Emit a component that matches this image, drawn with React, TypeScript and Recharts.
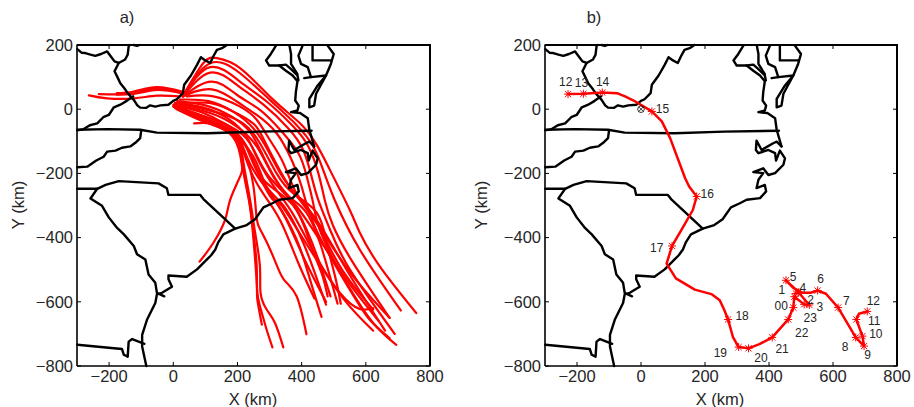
import React from "react";
import { ComposedChart, Line, ReferenceLine, XAxis, YAxis } from "recharts";

const xTicks = [-200, 0, 200, 400, 600, 800];
const yTicks = [-800, -600, -400, -200, 0, 200];
const xDomain = [-300, 800];
const yDomain = [-800, 200];
const frame = [[-300,200],[800,200],[800,-800]];

// ---- map borders (km) ----
const borderWest = [[-299,187],[-286,176],[-274,175],[-258,170],[-243,166],[-225,172],[-206,180],[-195,165],[-183,149],[-170,144],[-183,118],[-174,100],[-165,81],[-150,62],[-142,50],[-123,29],[-112,12],[-103,5],[-85,4],[-72,12],[-56,8],[-40,12],[-15,14],[0,26],[11,31],[30,50],[34,76],[55,105],[74,138],[86,162],[100,152],[115,144],[125,165],[136,185],[152,190],[167,200]];
const borderUp = [[-170,144],[-150,155],[-142,170],[-139,196],[-136,200]];
const borderTopNub = [[-123,200],[-113,197],[-105,200]];
const borderKyTn = [[-125,40],[-145,26],[-165,14],[-185,6],[-201,-18],[-218,-25],[-237,-44],[-260,-50],[-279,-62],[-299,-66]];
const borderNcNorth = [[-299,-64],[-206,-62],[-103,-64],[-51,-73],[105,-75],[260,-70],[431,-67]];
const borderVaCoast = [[320,198],[304,172],[289,152],[299,136],[330,136],[351,120],[372,105],[387,87],[382,53],[380,27],[391,11],[387,-4],[367,-9],[395,-12],[419,-28],[424,-64],[439,-116]];
const borderPotomac = [[330,136],[351,139],[367,125],[387,105],[390,90]];
const borderMd = [[362,198],[367,172],[367,141],[387,109]];
const borderBay = [[403,198],[390,167],[398,141],[419,131],[429,100],[408,97]];
const borderDelaware = [[434,198],[434,152],[491,152]];
const borderDelmarva = [[481,198],[500,172],[491,141],[476,105],[450,74],[424,32],[424,6],[439,11],[445,48],[476,105]];
const borderBayMouth = [[429,100],[476,105]];
const borderCoast = [[439,-116],[424,-101],[413,-106],[377,-127],[361,-98],[359,-127],[367,-137],[398,-127],[419,-137],[422,-160],[434,-129],[450,-153],[445,-173],[419,-199],[398,-205],[382,-184],[351,-196],[382,-199],[367,-220],[361,-246],[387,-236],[391,-256],[372,-277],[330,-282],[309,-293],[281,-306],[255,-343],[229,-361],[193,-372],[156,-390],[140,-415],[131,-437],[118,-455],[105,-468],[74,-499],[42,-522],[-15,-518],[-15,-530],[-4,-553],[-35,-572],[-51,-577],[-56,-604],[-82,-656],[-97,-703],[-97,-739],[-84,-800]];
const borderNcSc = [[-299,-248],[-237,-248],[-211,-236],[-170,-224],[-46,-231],[-20,-246],[-15,-267],[84,-267],[94,-280],[193,-372]];
const borderScWest = [[-237,-248],[-258,-278],[-222,-301],[-201,-337],[-175,-370],[-154,-390],[-123,-426],[-113,-452],[-87,-468],[-77,-515],[-56,-541],[-51,-572],[-28,-583]];
const borderNcTn = [[-299,-181],[-268,-179],[-240,-160],[-217,-148],[-206,-132],[-180,-129],[-160,-120],[-134,-116],[-115,-102],[-103,-90],[-100,-67]];
const borderGaFl = [[-299,-734],[-160,-747],[-154,-765],[-142,-771],[-139,-724],[-128,-716],[-90,-731]];
const borders = [borderWest,borderUp,borderTopNub,borderKyTn,borderNcNorth,borderVaCoast,borderPotomac,borderMd,borderBay,borderDelaware,borderDelmarva,borderBayMouth,borderCoast,borderNcSc,borderScWest,borderNcTn,borderGaFl];

// ---- panel a: ensemble trajectories (km) ----
const t1 = [[32,45],[94,144],[136,159],[208,128],[312,29],[395,-44],[447,-111],[488,-189],[550,-314],[581,-384],[643,-489],[757,-635]];
const t2 = [[30,40],[115,143],[208,112],[301,29],[384,-49],[436,-116],[467,-189],[503,-283],[581,-437],[709,-627]];
const t3 = [[30,40],[115,131],[208,86],[291,24],[374,-54],[421,-116],[452,-199],[472,-283],[498,-363],[560,-478],[674,-650]];
const t4 = [[30,40],[115,114],[198,76],[281,14],[358,-59],[405,-127],[431,-210],[452,-283],[488,-374],[550,-499],[690,-700]];
const t5 = [[30,40],[120,86],[198,45],[270,-2],[333,-64],[390,-137],[416,-210],[436,-293],[462,-390],[540,-541],[623,-666],[695,-734]];
const t6 = [[30,40],[120,62],[198,24],[260,-18],[322,-75],[369,-158],[400,-241],[447,-379],[550,-562],[612,-656],[674,-713]];
const t7 = [[42,40],[125,40],[208,8],[260,-33],[301,-96],[343,-168],[384,-262],[436,-332],[519,-489],[623,-624]];
const t8 = [[6,19],[105,-2],[208,-38],[270,-106],[322,-200],[374,-262],[447,-322],[478,-416],[504,-520],[522,-606]];
const t9 = [[6,14],[115,-12],[198,-54],[260,-116],[312,-210],[364,-275],[415,-322],[457,-416],[488,-520],[512,-606]];
const t10 = [[1,8],[84,-18],[177,-54],[239,-106],[291,-200],[364,-283],[415,-374],[452,-468],[490,-583]];
const t11 = [[6,3],[84,-31],[167,-64],[234,-127],[281,-220],[374,-300],[426,-416],[462,-510],[481,-583]];
const t12 = [[11,0],[94,-38],[177,-73],[250,-148],[291,-241],[343,-300],[405,-416],[452,-541],[476,-609]];
const t13 = [[1,14],[105,-25],[188,-64],[229,-148],[270,-220],[322,-290],[384,-405],[426,-530],[462,-647]];
const t14 = [[1,14],[84,-23],[177,-70],[224,-137],[250,-241],[260,-342],[276,-384],[313,-463],[344,-530],[384,-582],[415,-701]];
const t15 = [[1,10],[100,-30],[190,-75],[219,-168],[239,-280],[255,-384],[270,-489],[272,-572],[291,-624],[317,-666],[343,-742]];
const t16 = [[1,10],[100,-34],[190,-78],[216,-168],[236,-280],[250,-384],[260,-489],[262,-572],[276,-635],[291,-687],[309,-742]];
const t17 = [[1,8],[100,-36],[190,-80],[214,-168],[235,-280],[248,-384],[260,-541],[262,-593],[276,-671]];
const t18 = [[1,8],[100,-40],[185,-85],[213,-168],[208,-210],[177,-283],[162,-343],[125,-416],[82,-475]];
const t19 = [[65,-44],[115,-44],[177,-64],[229,-116],[270,-210],[312,-283],[353,-322],[519,-572],[623,-620]];
const t20 = [[20,30],[110,25],[190,-10],[250,-60],[296,-130],[340,-210],[400,-290],[470,-390],[560,-520],[674,-650]];
const t21 = [[12,25],[100,12],[180,-22],[240,-72],[282,-150],[330,-235],[390,-310],[465,-420],[550,-545],[640,-660]];
const t22 = [[5,20],[95,5],[172,-30],[228,-85],[268,-165],[320,-250],[375,-330],[440,-450],[530,-590],[623,-690]];
const t23 = [[8,12],[90,-10],[160,-45],[215,-95],[252,-175],[300,-260],[350,-340],[410,-470],[476,-600]];
const t24 = [[4,6],[80,-25],[150,-55],[205,-105],[240,-190],[285,-270],[335,-350],[390,-480],[440,-590]];
const t25 = [[15,18],[120,18],[200,-14],[255,-50],[290,-110],[332,-190],[378,-262],[450,-350],[540,-500],[660,-690]];
const w1 = [[22,40],[-51,42],[-123,34],[-206,34],[-263,43]];
const w2 = [[27,50],[-51,60],[-123,48],[-232,47]];
const w3 = [[27,55],[-51,69],[-123,55],[-176,50]];
const w4 = [[27,50],[-51,65],[-113,52],[-176,45]];
const trajectories = [t1,t2,t3,t4,t5,t6,t7,t8,t9,t10,t11,t12,t13,t14,t15,t16,t17,t18,t19,t20,t21,t22,t23,t24,t25,w1,w2,w3,w4];

// ---- panel b: single track (km) ----
const track = [[-228,47],[-180,48],[-121,52],[-75,50],[-50,40],[-23,27],[34,-7],[65,-38],[91,-90],[138,-215],[150,-240],[174,-272],[162,-314],[126,-377],[97,-426],[80,-481],[109,-527],[168,-562],[220,-576],[246,-595],[260,-625],[272,-655],[287,-709],[305,-741],[336,-745],[370,-732],[410,-711],[460,-655],[476,-618],[479,-584],[510,-608],[526,-610],[490,-568],[453,-533],[475,-556],[505,-572],[530,-572],[552,-565],[578,-575],[616,-618],[671,-711],[697,-738],[692,-707],[673,-655],[681,-637],[707,-630]];
const trackMarkers = [[-228,47],[-180,48],[-121,52],[34,-7],[174,-272],[97,-426],[272,-655],[305,-741],[336,-745],[410,-711],[460,-655],[476,-618],[479,-584],[484,-574],[510,-608],[526,-610],[493,-570],[453,-533],[552,-565],[616,-618],[671,-711],[697,-738],[692,-707],[673,-655],[707,-630]];
const origin = [[0,0]];
const labelTexts = ["12","13","14","15","16","17","18","19","20","21","22","23","00","1","2","3","4","5","6","7","8","9","10","11","12"];
const labelXs = [-235,-186,-120,67,207,49,316,248,375,441,502,529,438,440,530,559,506,475,561,642,638,708,734,729,726];
const labelYs = [86,83,86,0,-265,-431,-644,-759,-774,-748,-698,-650,-612,-564,-595,-616,-558,-524,-530,-599,-742,-767,-700,-659,-597];

const pts = (a: number[][]) => a.map(([x, y]) => ({ x, y }));
const labelRows = labelTexts.map((text, i) => ({ x: labelXs[i], y: labelYs[i], text }));

const FONT = "'Liberation Sans', Arial, sans-serif";
const TXT = "#262626";
const fmt = (v: number) => String(v).replace("-", "\u2212");

const Star = (p: any) => {
  const { cx, cy, index } = p;
  const r = 4;
  const d = r * 0.78;
  return (
    <g key={index} stroke="#ff0000" strokeWidth={1}>
      <line x1={cx - r} y1={cy} x2={cx + r} y2={cy} />
      <line x1={cx} y1={cy - r} x2={cx} y2={cy + r} />
      <line x1={cx - d} y1={cy - d} x2={cx + d} y2={cy + d} />
      <line x1={cx - d} y1={cy + d} x2={cx + d} y2={cy - d} />
    </g>
  );
};
const TextDot = (p: any) => (
  <text key={p.index} x={p.cx} y={p.cy} textAnchor="middle" dominantBaseline="central" fontSize={12} fontFamily={FONT} fill={TXT}>
    {p.payload.text}
  </text>
);
const OriginDot = (p: any) => {
  const { cx, cy, index } = p;
  const d = 2.2;
  return (
    <g key={index} stroke="#000" strokeWidth={0.8} fill="none">
      <circle cx={cx} cy={cy} r={3.3} />
      <line x1={cx - d} y1={cy - d} x2={cx + d} y2={cy + d} />
      <line x1={cx - d} y1={cy + d} x2={cx + d} y2={cy - d} />
    </g>
  );
};

function Series(a: number[][], i: string, color: string, width: number, curve: any) {
  return (
    <Line key={i} data={pts(a)} dataKey="y" type={curve} stroke={color} strokeWidth={width} dot={false} activeDot={false} isAnimationActive={false} strokeLinejoin="round" strokeLinecap="round" legendType="none" />
  );
}

function Axes(w: number) {
  const tickStyle = { fontSize: 16.5, fontFamily: FONT, fill: TXT };
  const line = { stroke: "#000", strokeWidth: 1.6 };
  const tl = { stroke: "#000", strokeWidth: 1 };
  const xMax = xDomain[1];
  const yMax = yDomain[1];
  const tx = 12.5;
  return [
    <XAxis key="xb" dataKey="x" type="number" domain={xDomain} ticks={xTicks} interval={0} height={41} tickSize={-4} tickMargin={8} tick={tickStyle} tickFormatter={fmt} axisLine={line} tickLine={tl} />,
    <YAxis key="yl" dataKey="y" type="number" domain={yDomain} ticks={yTicks} interval={0} width={w} tickSize={-4} tickMargin={8} tick={tickStyle} tickFormatter={fmt} axisLine={line} tickLine={tl} />,
    Series(frame, "frame", "#000000", 1.6, "linear"),
    ...xTicks.map((v) => (
      <ReferenceLine key={"tx" + v} segment={[{ x: v, y: yMax }, { x: v, y: yMax - tx }]} stroke="#000" strokeWidth={1} />
    )),
    ...yTicks.map((v) => (
      <ReferenceLine key={"ty" + v} segment={[{ x: xMax, y: v }, { x: xMax - tx, y: v }]} stroke="#000" strokeWidth={1} />
    )),
  ];
}

function Caption(props: { x: number; y: number; text: string; rotate?: boolean }) {
  const { x, y, text, rotate } = props;
  return (
    <text x={x} y={y} textAnchor="middle" fontSize={16.5} fontFamily={FONT} fill={TXT} transform={rotate ? `rotate(-90 ${x} ${y})` : undefined}>
      {text}
    </text>
  );
}

function FrameBox(props: { left: number; width: number }) {
  return (
    <div
      style={{
        position: "absolute",
        left: props.left,
        top: 44,
        width: props.width,
        height: 322,
        boxSizing: "border-box",
        borderTop: "2px solid #000",
        borderRight: "2px solid #000",
        pointerEvents: "none",
      }}
    />
  );
}

export default function App() {
  return (
    <div style={{ position: "absolute", left: 0, top: 0, width: 914, height: 407, background: "#fff" }}>
      <div style={{ position: "absolute", left: 0, top: 0 }}>
        <ComposedChart width={457} height={407} margin={{ top: 45, right: 27, left: 0, bottom: 0 }}>
          {Axes(77)}
          {trajectories.map((a, i) => Series(a, "t" + i, "#ff0000", 2.2, "natural"))}
          {borders.map((a, i) => Series(a, "b" + i, "#000000", 2.4, "linear"))}
          <Caption x={253} y={405} text="X (km)" />
          <Caption x={24} y={205} text="Y (km)" rotate />
          <Caption x={127} y={23} text="a)" />
        </ComposedChart>
      </div>
      <div style={{ position: "absolute", left: 457, top: 0 }}>
        <ComposedChart width={457} height={407} margin={{ top: 45, right: 17, left: 0, bottom: 0 }}>
          {Axes(88)}
          {borders.map((a, i) => Series(a, "b" + i, "#000000", 2.4, "linear"))}
          {Series(track, "track", "#ff0000", 2.5, "linear")}
          <Line data={pts(trackMarkers)} dataKey="y" stroke="none" dot={Star} activeDot={false} isAnimationActive={false} legendType="none" />
          <Line data={pts(origin)} dataKey="y" stroke="none" dot={OriginDot} activeDot={false} isAnimationActive={false} legendType="none" />
          <Line data={labelRows} dataKey="y" stroke="none" dot={TextDot} activeDot={false} isAnimationActive={false} legendType="none" />
          <Caption x={263} y={405} text="X (km)" />
          <Caption x={30} y={205} text="Y (km)" rotate />
          <Caption x={137} y={23} text="b)" />
        </ComposedChart>
      </div>
      <FrameBox left={77} width={354} />
      <FrameBox left={545} width={353} />
    </div>
  );
}
